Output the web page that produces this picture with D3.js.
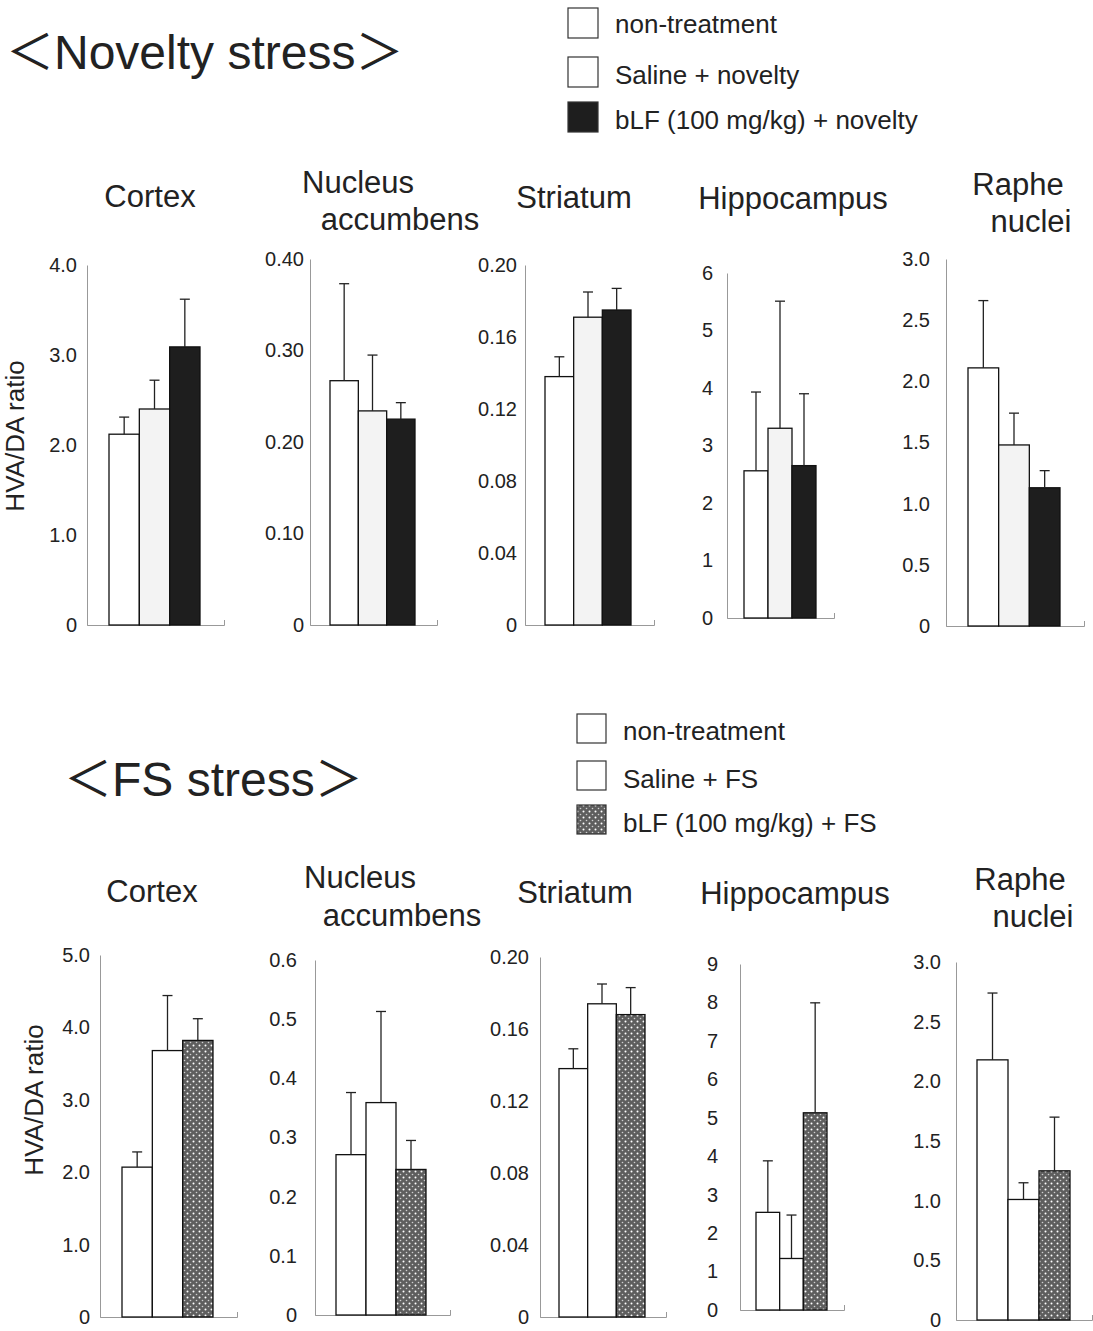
<!DOCTYPE html>
<html>
<head>
<meta charset="utf-8">
<script src="https://cdn.jsdelivr.net/npm/d3@7"></script>
<style>
  body { margin: 0; background: #fff; }
  text { font-family: "Liberation Sans", Arial, "Noto Sans CJK JP", sans-serif; fill: #222; }
</style>
</head>
<body>
<div id="chart"></div>
<script>
// ---- data ----
const regions = ["Cortex", "Nucleus accumbens", "Striatum", "Hippocampus", "Raphe nuclei"];
const noveltyGroups = ["non-treatment", "Saline + novelty", "bLF (100 mg/kg) + novelty"];
const fsGroups = ["non-treatment", "Saline + FS", "bLF (100 mg/kg) + FS"];

// HVA/DA ratio, mean and SEM, one row per region
const noveltyMeans = [[2.12, 2.40, 3.09], [0.267, 0.234, 0.225], [0.138, 0.171, 0.175], [2.56, 3.30, 2.65], [2.11, 1.48, 1.13]];
const noveltySem   = [[0.19, 0.32, 0.53], [0.106, 0.061, 0.018], [0.011, 0.014, 0.012], [1.37, 2.21, 1.25], [0.55, 0.26, 0.14]];
const fsMeans = [[2.07, 3.68, 3.82], [0.271, 0.359, 0.246], [0.138, 0.174, 0.168], [2.54, 1.34, 5.13], [2.18, 1.01, 1.25]];
const fsSem   = [[0.21, 0.76, 0.30], [0.105, 0.154, 0.049], [0.011, 0.011, 0.015], [1.34, 1.13, 2.86], [0.56, 0.14, 0.45]];

const noveltyTicks = [[0, 1, 2, 3, 4], [0, 0.1, 0.2, 0.3, 0.4], [0, 0.04, 0.08, 0.12, 0.16, 0.2], [0, 1, 2, 3, 4, 5, 6], [0, 0.5, 1, 1.5, 2, 2.5, 3]];
const noveltyTickLabels = [["0", "1.0", "2.0", "3.0", "4.0"], ["0", "0.10", "0.20", "0.30", "0.40"], ["0", "0.04", "0.08", "0.12", "0.16", "0.20"], ["0", "1", "2", "3", "4", "5", "6"], ["0", "0.5", "1.0", "1.5", "2.0", "2.5", "3.0"]];
const fsTicks = [[0, 1, 2, 3, 4, 5], [0, 0.1, 0.2, 0.3, 0.4, 0.5, 0.6], [0, 0.04, 0.08, 0.12, 0.16, 0.2], [0, 1, 2, 3, 4, 5, 6, 7, 8, 9], [0, 0.5, 1, 1.5, 2, 2.5, 3]];
const fsTickLabels = [["0", "1.0", "2.0", "3.0", "4.0", "5.0"], ["0", "0.1", "0.2", "0.3", "0.4", "0.5", "0.6"], ["0", "0.04", "0.08", "0.12", "0.16", "0.20"], ["0", "1", "2", "3", "4", "5", "6", "7", "8", "9"], ["0", "0.5", "1.0", "1.5", "2.0", "2.5", "3.0"]];

// ---- layout (pixels) ----
const W = 1093, H = 1331;
const topLayout = [
  { axisX: 87,  x0: 109, x1: 200, yTop: 265, yBase: 625, xEnd: 224, gap: 10, title: [[150, 207, "Cortex"]] },
  { axisX: 310, x0: 330, x1: 415, yTop: 259, yBase: 625, xEnd: 437, gap: 6,  title: [[358, 193, "Nucleus"], [400, 230, "accumbens"]] },
  { axisX: 525, x0: 545, x1: 631, yTop: 265, yBase: 625, xEnd: 654, gap: 8,  title: [[574, 208, "Striatum"]] },
  { axisX: 727, x0: 744, x1: 816, yTop: 273, yBase: 618, xEnd: 834, gap: 14, title: [[793, 209, "Hippocampus"]] },
  { axisX: 946, x0: 968, x1: 1060, yTop: 259, yBase: 626, xEnd: 1084, gap: 16, title: [[1018, 195, "Raphe"], [1031, 232, "nuclei"]] }
];
const bottomLayout = [
  { axisX: 100, x0: 122, x1: 213, yTop: 955, yBase: 1317, xEnd: 237, gap: 10, title: [[152, 902, "Cortex"]] },
  { axisX: 315, x0: 336, x1: 426, yTop: 960, yBase: 1315, xEnd: 450, gap: 18, title: [[360, 888, "Nucleus"], [402, 926, "accumbens"]] },
  { axisX: 540, x0: 559, x1: 645, yTop: 957, yBase: 1317, xEnd: 666, gap: 11, title: [[575, 903, "Striatum"]] },
  { axisX: 740, x0: 756, x1: 827, yTop: 964, yBase: 1310, xEnd: 844, gap: 22, title: [[795, 904, "Hippocampus"]] },
  { axisX: 956, x0: 977, x1: 1070, yTop: 962, yBase: 1320, xEnd: 1092, gap: 15, title: [[1020, 890, "Raphe"], [1033, 927, "nuclei"]] }
];

const svg = d3.select("#chart").append("svg")
  .attr("width", W).attr("height", H)
  .attr("viewBox", `0 0 ${W} ${H}`);
svg.append("rect").attr("width", W).attr("height", H).attr("fill", "#fff");

const defs = svg.append("defs");
const pat = defs.append("pattern").attr("id", "dots")
  .attr("width", 6).attr("height", 6).attr("patternUnits", "userSpaceOnUse");
pat.append("rect").attr("width", 6).attr("height", 6).attr("fill", "#5e5e5e");
pat.append("circle").attr("cx", 1.5).attr("cy", 1.5).attr("r", 1).attr("fill", "#fff");
pat.append("circle").attr("cx", 4.5).attr("cy", 4.5).attr("r", 0.8).attr("fill", "#cfcfcf");

const noveltyFills = ["#fff", "#f3f3f3", "#1e1e1e"];
const fsFills = ["#fff", "#fff", "url(#dots)"];

function drawPanel(cfg, groups, means, sem, ticks, tickLabels, fills) {
  const g = svg.append("g");

  const x = d3.scaleBand().domain(groups).range([cfg.x0, cfg.x1]).padding(0);
  const y = d3.scaleLinear().domain([0, d3.max(ticks)]).range([cfg.yBase, cfg.yTop]);

  // Y axis
  const yAxis = g.append("g")
    .attr("transform", `translate(${cfg.axisX},0)`)
    .call(d3.axisLeft(y).tickValues(ticks)
      .tickFormat((d, i) => tickLabels[i])
      .tickSize(0).tickPadding(cfg.gap));
  yAxis.select(".domain").attr("stroke", "#999").attr("stroke-width", 1);
  yAxis.selectAll("text").attr("font-size", 20).attr("fill", "#222")
    .attr("font-family", "Liberation Sans, Arial, sans-serif");

  // X axis: plain baseline with a small upturned tick at the right end
  const xLine = d3.scaleLinear().range([cfg.axisX, cfg.xEnd]);
  const xAxis = g.append("g")
    .attr("transform", `translate(0,${cfg.yBase})`)
    .call(d3.axisBottom(xLine).tickValues([]).tickSizeOuter(-5));
  xAxis.select(".domain").attr("stroke", "#999").attr("stroke-width", 1);

  const rows = groups.map((k, i) => ({ k, i, v: means[i], e: sem[i] }));

  // bars
  g.selectAll("rect.bar").data(rows).enter().append("rect")
    .attr("class", "bar")
    .attr("x", d => x(d.k))
    .attr("y", d => y(d.v))
    .attr("width", x.bandwidth())
    .attr("height", d => y(0) - y(d.v))
    .attr("fill", d => fills[d.i])
    .attr("stroke", "#111")
    .attr("stroke-width", 1.3);

  // error bars (upper only)
  const cap = 5;
  g.selectAll("line.err").data(rows).enter().append("line")
    .attr("class", "err")
    .attr("x1", d => x(d.k) + x.bandwidth() / 2)
    .attr("x2", d => x(d.k) + x.bandwidth() / 2)
    .attr("y1", d => y(d.v))
    .attr("y2", d => y(d.v + d.e))
    .attr("stroke", "#222").attr("stroke-width", 1.3);
  g.selectAll("line.cap").data(rows).enter().append("line")
    .attr("class", "cap")
    .attr("x1", d => x(d.k) + x.bandwidth() / 2 - cap)
    .attr("x2", d => x(d.k) + x.bandwidth() / 2 + cap)
    .attr("y1", d => y(d.v + d.e))
    .attr("y2", d => y(d.v + d.e))
    .attr("stroke", "#222").attr("stroke-width", 1.3);

  // panel title
  cfg.title.forEach(t => {
    g.append("text").attr("x", t[0]).attr("y", t[1])
      .attr("text-anchor", "middle").attr("font-size", 31).attr("fill", "#2a2a2a")
      .text(t[2]);
  });
}

function drawLegend(groups, fills, bx, bw, boxYs, tx, baselines) {
  const g = svg.append("g");
  groups.forEach((name, i) => {
    g.append("rect").attr("x", bx).attr("y", boxYs[i]).attr("width", bw).attr("height", bw)
      .attr("fill", fills[i]).attr("stroke", "#333").attr("stroke-width", 1.2);
    g.append("text").attr("x", tx).attr("y", baselines[i])
      .attr("font-size", 26).attr("fill", "#222").text(name);
  });
}

function drawYLabel(cx, cy) {
  svg.append("text")
    .attr("transform", `translate(${cx},${cy}) rotate(-90)`)
    .attr("text-anchor", "middle").attr("font-size", 26).attr("fill", "#222")
    .text("HVA/DA ratio");
}

// section titles
svg.append("text").attr("x", 6).attr("y", 69).attr("font-size", 48).attr("fill", "#2a2a2a")
  .text("＜Novelty stress＞");
svg.append("text").attr("x", 64).attr("y", 796).attr("font-size", 48).attr("fill", "#2a2a2a")
  .text("＜FS stress＞");

drawLegend(noveltyGroups, ["#fff", "#fff", "#1e1e1e"], 568, 30, [8, 57, 102], 615, [33, 84, 129]);
drawLegend(fsGroups, ["#fff", "#fff", "url(#dots)"], 577, 29, [714, 761, 805], 623, [740, 788, 832]);

drawYLabel(24, 436);
drawYLabel(43, 1100);

regions.forEach((r, i) => {
  drawPanel(topLayout[i], noveltyGroups, noveltyMeans[i], noveltySem[i], noveltyTicks[i], noveltyTickLabels[i], noveltyFills);
  drawPanel(bottomLayout[i], fsGroups, fsMeans[i], fsSem[i], fsTicks[i], fsTickLabels[i], fsFills);
});
</script>
</body>
</html>
